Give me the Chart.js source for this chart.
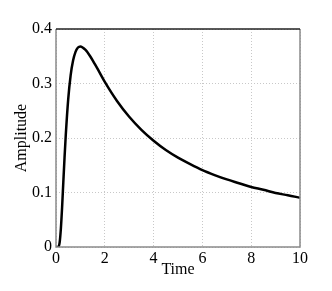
<!DOCTYPE html>
<html lang="en">
<head>
    <meta charset="UTF-8">
    <title>Amplitude</title>
    <script src="https://cdn.jsdelivr.net/npm/chart.js"></script>
    <style>
        html, body { margin: 0; padding: 0; background: #fff; }
        #wrap { width: 332px; height: 291px; }
    </style>
</head>
<body>
    <div id="wrap"><canvas id="chart"></canvas></div>
    <script>
        // valores
        const times = [0, 0.05, 0.1, 0.15, 0.2, 0.25, 0.3, 0.35, 0.4, 0.5, 0.6, 0.7, 0.8, 0.9, 1.0,
            1.2, 1.4, 1.6, 1.8, 2, 2.5, 3, 3.5, 4, 4.5, 5, 5.5, 6, 6.5, 7, 7.5, 8, 8.5, 9, 9.5, 10];
        const amplitude = [0, 0, 0.0005, 0.0085, 0.034, 0.073, 0.119, 0.164, 0.205, 0.271, 0.315, 0.342, 0.358, 0.366, 0.368,
            0.362, 0.350, 0.335, 0.319, 0.303, 0.268, 0.239, 0.215, 0.195, 0.178, 0.164, 0.152, 0.141, 0.132, 0.124, 0.117, 0.110, 0.105, 0.099, 0.095, 0.0905];
        const xTicks = [0, 2, 4, 6, 8, 10];
        const yTicks = [0, 0.1, 0.2, 0.3, 0.4];

        const font = { family: '"Liberation Serif", "DejaVu Serif", serif', size: 16 };

        // moldura: topo preto, demais lados cinza
        const frame = {
            id: 'frame',
            afterDraw(chart) {
                const { ctx, chartArea: a } = chart;
                ctx.save();
                ctx.lineWidth = 1.5;
                ctx.strokeStyle = '#8a8a8a';
                ctx.beginPath();
                ctx.moveTo(a.left, a.top);
                ctx.lineTo(a.left, a.bottom);
                ctx.lineTo(a.right, a.bottom);
                ctx.lineTo(a.right, a.top);
                ctx.stroke();
                ctx.strokeStyle = '#222';
                ctx.beginPath();
                ctx.moveTo(a.left, a.top);
                ctx.lineTo(a.right, a.top);
                ctx.stroke();
                ctx.restore();
            }
        };

        new Chart(document.getElementById('chart'), {
            type: 'line',
            data: {
                datasets: [{
                    data: times.map((t, i) => ({ x: t, y: amplitude[i] })),
                    borderColor: '#000',
                    borderWidth: 2.5,
                    pointRadius: 0,
                    cubicInterpolationMode: 'monotone',
                    fill: false
                }]
            },
            options: {
                responsive: true,
                maintainAspectRatio: false,
                animation: false,
                layout: { padding: { left: 0, right: 32, top: 29, bottom: 0 } },
                plugins: { legend: { display: false }, tooltip: { enabled: false } },
                scales: {
                    x: {
                        type: 'linear',
                        min: 0, max: 10,
                        afterBuildTicks: s => { s.ticks = xTicks.map(v => ({ value: v })); },
                        afterFit: s => { s.height = 44; },
                        ticks: { color: '#000', font: font, padding: 2, maxRotation: 0 },
                        grid: { color: '#c8c8c8', drawTicks: false, tickLength: 0 },
                        border: { display: false, dash: [1, 2] },
                        title: { display: true, text: 'Time', color: '#000', font: font, padding: { top: 0, bottom: 12 } }
                    },
                    y: {
                        min: 0, max: 0.4,
                        afterBuildTicks: s => { s.ticks = yTicks.map(v => ({ value: v })); },
                        afterFit: s => { s.width = 56; },
                        ticks: { color: '#000', font: font, padding: 4, callback: v => String(v) },
                        grid: { color: '#c8c8c8', drawTicks: false, tickLength: 0 },
                        border: { display: false, dash: [1, 2] },
                        title: { display: true, text: 'Amplitude', color: '#000', font: font, padding: { top: 12, bottom: 0 } }
                    }
                }
            },
            plugins: [frame]
        });
    </script>
</body>
</html>
